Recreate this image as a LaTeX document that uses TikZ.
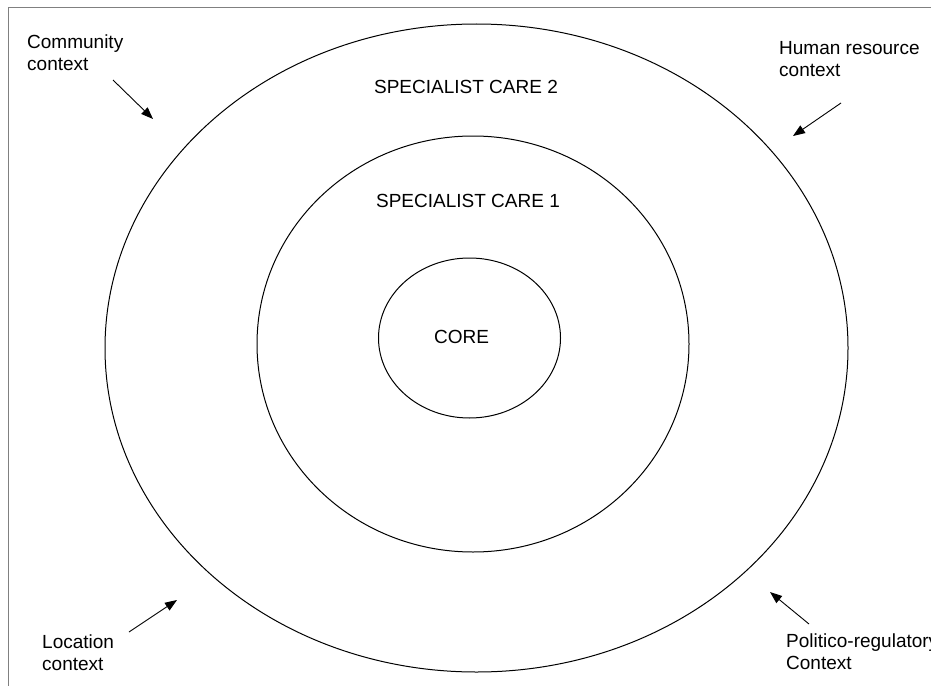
\documentclass[tikz,border=0pt]{standalone}
\usepackage{fontspec}
\setmainfont{Liberation Sans}
\usetikzlibrary{arrows.meta}
\begin{document}
\begin{tikzpicture}[x=1pt,y=-1pt,
  ring/.style={draw=black,line width=1pt},
  lbl/.style={inner sep=0pt,font=\fontsize{19}{22}\selectfont},
  ctx/.style={lbl,anchor=north west,align=left},
  ptr/.style={draw=black,line width=0.9pt,-{Triangle[length=12pt,width=9pt]}}]
\useasboundingbox (0,0) rectangle (931,685);
\clip (0,0) rectangle (931,685);
\draw[draw=gray,line width=1.6pt] (8.5,7.5) rectangle (960,720);
% rings
\draw[ring] (476.5,348) ellipse [x radius=371.5,y radius=324];
\draw[ring] (473,344) ellipse [x radius=216,y radius=208];
\draw[ring] (469.5,338) ellipse [x radius=91,y radius=80];
% ring labels
\node[lbl] (sc2) at (466,87) {SPECIALIST CARE 2};
\node[lbl] (sc1) at (468,201) {SPECIALIST CARE 1};
\node[lbl] (core) at (461.5,337) {CORE};
% context labels
\node[ctx] (comm) at (27,34.5) {Community\\context};
\node[ctx] (hum) at (779,41.5) {Human resource\\context};
\node[ctx] (loc) at (42,634.5) {Location\\context};
\node[ctx] (pol) at (786,633.5) {Politico-regulatory\\Context};
% arrow ends
\coordinate (a1s) at (113,80);  \coordinate (a1e) at (153,119);
\coordinate (a2s) at (841,103); \coordinate (a2e) at (793,136);
\coordinate (a3s) at (129,632); \coordinate (a3e) at (177,600);
\coordinate (a4s) at (809,624); \coordinate (a4e) at (770,592);
\draw[ptr] (a1s) -- (a1e);
\draw[ptr] (a2s) -- (a2e);
\draw[ptr] (a3s) -- (a3e);
\draw[ptr] (a4s) -- (a4e);
\end{tikzpicture}
\end{document}
